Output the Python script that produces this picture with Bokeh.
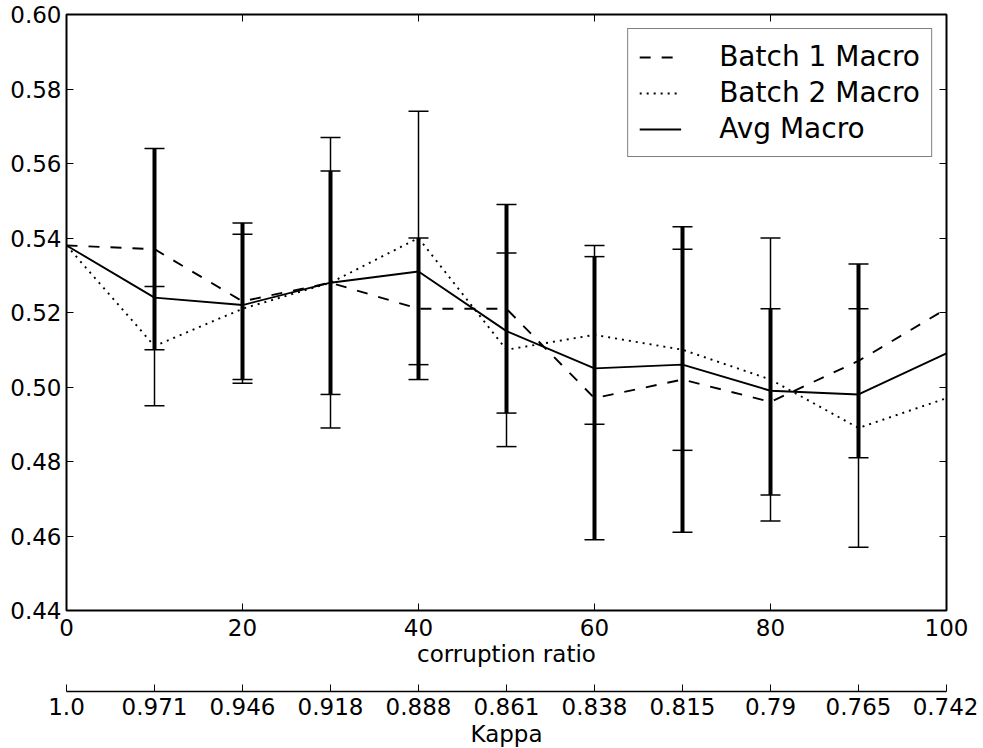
from bokeh.plotting import figure
from bokeh.models import (LinearAxis, FixedTicker, Whisker, TeeHead, ColumnDataSource,
                          Legend, LegendItem, PrintfTickFormatter)
from bokeh.embed import file_html
from bokeh.resources import INLINE

# ---- data ----
ratio = [0, 10, 20, 30, 40, 50, 60, 70, 80, 90, 100]
kappa = ["1.0", "0.971", "0.946", "0.918", "0.888", "0.861", "0.838", "0.815", "0.79", "0.765", "0.742"]
batch1 = [0.538, 0.537, 0.523, 0.528, 0.521, 0.521, 0.497, 0.502, 0.496, 0.507, 0.521]
batch2 = [0.538, 0.511, 0.521, 0.528, 0.540, 0.510, 0.514, 0.510, 0.502, 0.489, 0.497]
avg = [0.538, 0.524, 0.522, 0.528, 0.531, 0.515, 0.505, 0.506, 0.499, 0.498, 0.509]
err_x = [10, 20, 30, 40, 50, 60, 70, 80, 90]
batch1_err = [0.027, 0.021, 0.030, 0.019, 0.028, 0.038, 0.041, 0.025, 0.026]
batch2_err = [0.016, 0.020, 0.039, 0.034, 0.026, 0.024, 0.027, 0.038, 0.032]
y_ticks = [0.44, 0.46, 0.48, 0.50, 0.52, 0.54, 0.56, 0.58, 0.60]
x_ticks = [0, 20, 40, 60, 80, 100]

FONT = "DejaVu Sans"
FS = "23px"

p = figure(frame_width=880, frame_height=596, x_range=(0, 100), y_range=(0.44, 0.60),
           output_backend="svg", toolbar_location=None,
           min_border_left=66, min_border_right=32, min_border_top=14, min_border_bottom=0)
p.grid.visible = False
p.outline_line_color = "black"
p.outline_line_width = 2
p.background_fill_color = "white"
p.border_fill_color = "white"

def style_axis(ax, ticks, labels=True):
    ax.ticker = FixedTicker(ticks=ticks)
    ax.axis_line_color = None
    ax.major_tick_in = 7
    ax.major_tick_out = 0
    ax.major_tick_line_color = "black"
    ax.major_tick_line_width = 1
    ax.minor_tick_line_color = None
    ax.major_label_text_font = FONT
    ax.axis_label_text_font = FONT
    ax.axis_label_text_font_style = "normal"
    ax.axis_label_text_color = "black"
    if labels:
        ax.major_label_text_color = "black"
        ax.major_label_text_font_size = FS
        ax.axis_label_text_font_size = FS
    else:
        ax.major_label_text_color = None
        ax.major_label_text_font_size = "0px"
        ax.major_label_standoff = 0

# main x axis
xax = p.xaxis[0]
style_axis(xax, x_ticks)
xax.axis_label = "corruption ratio"
xax.major_label_standoff = 8
xax.axis_label_standoff = 2

# y axis
yax = p.yaxis[0]
style_axis(yax, y_ticks)
yax.formatter = PrintfTickFormatter(format="%.2f")
yax.major_label_standoff = 5

# top and right tick-only axes
top_ax = LinearAxis()
style_axis(top_ax, x_ticks, labels=False)
p.add_layout(top_ax, "above")
right_ax = LinearAxis()
style_axis(right_ax, y_ticks, labels=False)
p.add_layout(right_ax, "right")

# spacer axis between the two bottom axes (invisible tick only reserves room)
gap_ax = LinearAxis(ticker=FixedTicker(ticks=[50]), axis_line_color=None,
                    major_tick_in=0, major_tick_out=22, major_tick_line_color=None,
                    minor_tick_line_color=None, major_label_standoff=0,
                    major_label_overrides={50: ""},
                    major_label_text_font_size="0px", major_label_text_color=None)
p.add_layout(gap_ax, "below")

# kappa axis
kax = LinearAxis(axis_label="Kappa")
style_axis(kax, ratio)
kax.axis_line_color = "black"
kax.axis_line_width = 1.5
kax.major_label_overrides = {r: k for r, k in zip(ratio, kappa)}
kax.major_label_standoff = 6
kax.axis_label_standoff = 3
p.add_layout(kax, "below")

# error bars
lo1 = [b - e for b, e in zip(batch1[1:10], batch1_err)]
hi1 = [b + e for b, e in zip(batch1[1:10], batch1_err)]
lo2 = [b - e for b, e in zip(batch2[1:10], batch2_err)]
hi2 = [b + e for b, e in zip(batch2[1:10], batch2_err)]
src1 = ColumnDataSource(dict(x=err_x, lo=lo1, hi=hi1))
src2 = ColumnDataSource(dict(x=err_x, lo=lo2, hi=hi2))

w1 = Whisker(base="x", lower="lo", upper="hi", source=src1, line_color="black", line_width=4,
             upper_head=TeeHead(size=20, line_width=1.5, line_color="black"),
             lower_head=TeeHead(size=20, line_width=1.5, line_color="black"))
w2 = Whisker(base="x", lower="lo", upper="hi", source=src2, line_color="black", line_width=1.5,
             upper_head=TeeHead(size=20, line_width=1.5, line_color="black"),
             lower_head=TeeHead(size=20, line_width=1.5, line_color="black"))
p.add_layout(w1)
p.add_layout(w2)

# lines
r1 = p.line(ratio, batch1, line_color="black", line_width=1.9, line_dash="11 11")
r2 = p.line(ratio, batch2, line_color="black", line_width=1.9, line_dash="2 5")
r3 = p.line(ratio, avg, line_color="black", line_width=1.9)

legend = Legend(items=[LegendItem(label="Batch 1 Macro", renderers=[r1]),
                       LegendItem(label="Batch 2 Macro", renderers=[r2]),
                       LegendItem(label="Avg Macro", renderers=[r3])],
                location="top_right", margin=14, padding=11, spacing=3,
                glyph_width=42, label_standoff=38,
                label_text_font=FONT, label_text_font_size="28px", label_text_color="black",
                border_line_color="black", border_line_width=1.5,
                background_fill_color="white", background_fill_alpha=1.0)
p.add_layout(legend)

open("out.html", "w").write(file_html(p, INLINE))
